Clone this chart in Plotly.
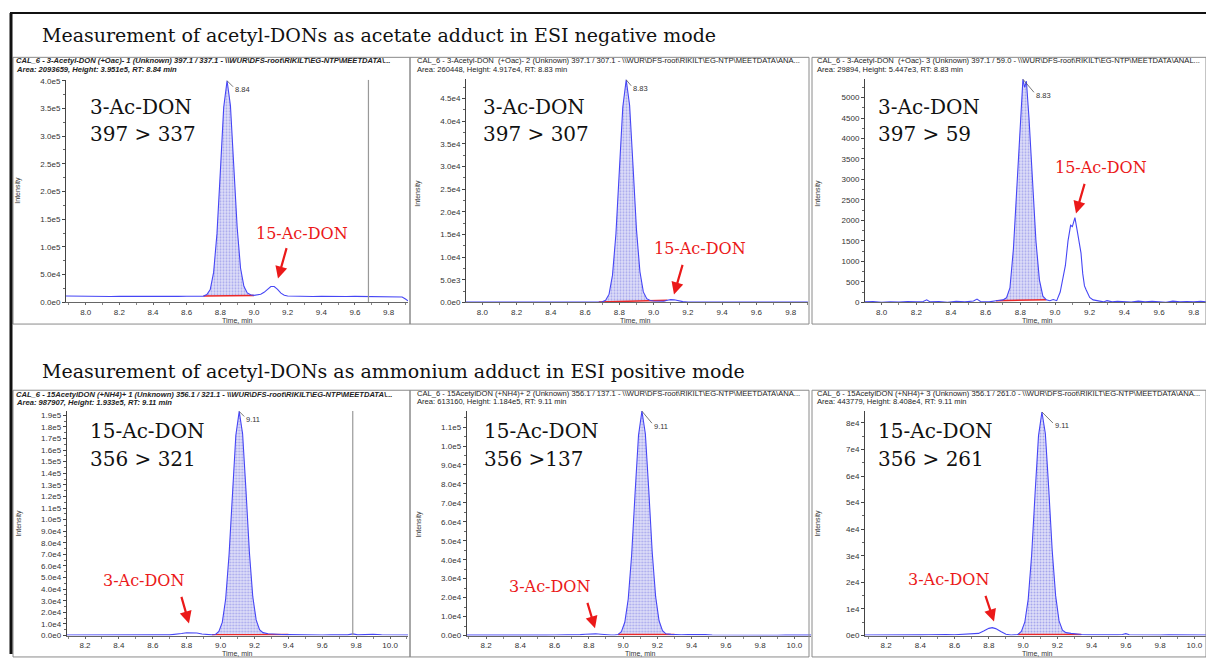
import numpy as np
import plotly.graph_objects as go

W, H = 1206, 659

# ---------------- data ----------------
# Panel 1: 3-Ac-DON 397 > 337
p1_time = [7.88, 7.95, 8.00, 8.05, 8.10, 8.15, 8.20, 8.25, 8.30, 8.35, 8.40, 8.45, 8.50, 8.55, 8.60, 8.65,
           8.70, 8.72, 8.74, 8.76, 8.78, 8.80, 8.82, 8.84, 8.86, 8.88, 8.90, 8.92, 8.94, 8.96, 8.98, 9.00,
           9.02, 9.04, 9.06, 9.08, 9.10, 9.12, 9.14, 9.16, 9.18, 9.20, 9.25, 9.30, 9.35, 9.40, 9.45, 9.50,
           9.55, 9.60, 9.65, 9.70, 9.75, 9.80, 9.85, 9.88, 9.90, 9.915]
p1_int = [11500, 11000, 11200, 10800, 11000, 10600, 11100, 10900, 11300, 10700, 11000, 10500, 11100, 10800, 11000, 10900,
          11200, 14000, 23000, 54000, 124000, 236000, 352000, 400000, 355000, 245000, 135000, 62000, 29000, 17000, 13500, 12500,
          13000, 14500, 18000, 24000, 28500, 28500, 23500, 16500, 12800, 11500, 11000, 11200, 10600, 10900, 10500, 11000,
          10400, 10700, 10300, 10600, 10200, 10400, 10000, 9500, 6000, 2500]

# Panel 2: 3-Ac-DON 397 > 307
p2_time = [7.905, 7.95, 8.00, 8.05, 8.10, 8.15, 8.20, 8.25, 8.30, 8.35, 8.40, 8.45, 8.50, 8.55, 8.60, 8.65,
           8.68, 8.70, 8.72, 8.74, 8.76, 8.78, 8.80, 8.82, 8.84, 8.86, 8.88, 8.90, 8.92, 8.94, 8.96, 8.98,
           9.00, 9.03, 9.06, 9.08, 9.10, 9.12, 9.14, 9.17, 9.20, 9.25, 9.30, 9.35, 9.40, 9.50, 9.60, 9.70, 9.80, 9.90]
p2_int = [60, 80, 50, 70, 60, 90, 50, 80, 60, 70, 50, 80, 60, 90, 70, 80,
          60, 100, 430, 1800, 6000, 15100, 29100, 43100, 49170, 43500, 30000, 16000, 6800, 2300, 800, 400,
          300, 200, 250, 450, 600, 550, 350, 150, 80, 60, 70, 50, 80, 60, 70, 50, 60, 50]

# Panel 3: 3-Ac-DON 397 > 59
p3_time = [7.903, 7.95, 8.00, 8.05, 8.10, 8.15, 8.20, 8.24, 8.26, 8.28, 8.33, 8.38, 8.43, 8.48, 8.53, 8.55,
           8.57, 8.62, 8.66, 8.70, 8.72, 8.74, 8.76, 8.78, 8.80, 8.815, 8.825, 8.835, 8.85, 8.87, 8.89, 8.91,
           8.93, 8.95, 8.97, 8.99, 9.01, 9.03, 9.045, 9.06, 9.075, 9.09, 9.10, 9.115, 9.13, 9.15, 9.16, 9.17,
           9.18, 9.20, 9.22, 9.25, 9.28, 9.30, 9.33, 9.36, 9.40, 9.44, 9.48, 9.52, 9.56, 9.60, 9.64, 9.68,
           9.72, 9.76, 9.80, 9.84, 9.871]
p3_int = [10, 20, 0, 15, 5, 20, 10, 20, 60, 10, 20, 0, 25, 10, 30, 80,
          20, 10, 40, 60, 110, 350, 1300, 2900, 4500, 5447, 5250, 5400, 4500, 3000, 1500, 550,
          150, 60, 40, 70, 40, 250, 600, 900, 1500, 1880, 1850, 2070, 1700, 1200, 700, 400,
          300, 120, 60, 30, 10, 40, 10, 25, 20, 5, 30, 10, 25, 20, 0, 30,
          15, 20, 10, 25, 10]

# Panel 4: 15-Ac-DON 356 > 321
p4_time = [8.092, 8.15, 8.20, 8.25, 8.30, 8.35, 8.40, 8.45, 8.50, 8.55, 8.60, 8.65, 8.70, 8.74, 8.77, 8.80,
           8.83, 8.86, 8.89, 8.92, 8.95, 8.97, 8.99, 9.01, 9.03, 9.05, 9.07, 9.09, 9.11, 9.13, 9.15, 9.17,
           9.19, 9.21, 9.23, 9.25, 9.28, 9.32, 9.36, 9.40, 9.45, 9.50, 9.55, 9.60, 9.65, 9.70, 9.75, 9.78,
           9.81, 9.85, 9.90, 9.95, 10.00, 10.05, 10.106]
p4_int = [400, 350, 450, 300, 400, 350, 450, 300, 400, 500, 400, 550, 600, 900, 1700, 2400,
          2600, 2200, 1300, 700, 600, 900, 3500, 11400, 31500, 69600, 122800, 172600, 193300, 174000, 125000, 72000,
          33500, 13500, 5000, 2500, 1600, 1100, 900, 800, 600, 500, 600, 500, 700, 500, 600, 1400,
          600, 800, 1100, 700, 500, 600, 400]

# Panel 5: 15-Ac-DON 356 > 137
p5_time = [8.087, 8.15, 8.20, 8.25, 8.30, 8.35, 8.40, 8.45, 8.50, 8.55, 8.60, 8.65, 8.70, 8.75, 8.78, 8.81,
           8.84, 8.87, 8.90, 8.93, 8.95, 8.97, 8.99, 9.01, 9.03, 9.05, 9.07, 9.09, 9.11, 9.13, 9.15, 9.17,
           9.19, 9.21, 9.23, 9.25, 9.28, 9.30, 9.34, 9.38, 9.42, 9.45, 9.48, 9.52, 9.56, 9.60, 9.65, 9.70,
           9.75, 9.80, 9.85, 9.90, 9.95, 10.00, 10.097]
p5_int = [200, 150, 250, 200, 150, 250, 200, 150, 250, 200, 300, 250, 350, 500, 700, 850,
          900, 700, 400, 250, 300, 500, 2000, 7000, 19300, 42600, 75200, 105700, 118400, 106500, 76500, 44000,
          20500, 7800, 2600, 900, 600, 500, 400, 500, 600, 800, 500, 300, 250, 200, 250, 200,
          150, 250, 200, 150, 250, 200, 200]

# Panel 6: 15-Ac-DON 356 > 261
p6_time = [8.077, 8.15, 8.20, 8.25, 8.30, 8.35, 8.40, 8.45, 8.50, 8.55, 8.60, 8.65, 8.70, 8.74, 8.77, 8.80,
           8.82, 8.84, 8.87, 8.90, 8.93, 8.95, 8.97, 8.99, 9.01, 9.03, 9.05, 9.07, 9.09, 9.11, 9.13, 9.15,
           9.17, 9.19, 9.21, 9.23, 9.25, 9.28, 9.31, 9.34, 9.38, 9.42, 9.46, 9.50, 9.55, 9.58, 9.60, 9.62,
           9.66, 9.70, 9.75, 9.80, 9.85, 9.90, 9.95, 10.00, 10.068]
p6_int = [200, 150, 250, 200, 300, 200, 250, 300, 200, 350, 300, 400, 500, 800, 1700, 2700,
          2970, 2600, 1500, 500, 200, 250, 400, 1500, 5000, 13700, 30300, 53400, 75100, 84080, 76000, 55000,
          32000, 15000, 5500, 2000, 1100, 800, 500, 400, 300, 250, 300, 250, 300, 400, 700, 300,
          250, 200, 250, 200, 300, 250, 200, 250, 200]

# integration windows (start, end) in min
p1_window = (8.70, 9.00)
p2_window = (8.68, 9.08)
p3_window = (8.66, 8.95)
p4_window = (8.95, 9.40)
p5_window = (8.97, 9.30)
p6_window = (8.97, 9.34)

# retention-time labels
rt_labels = ["8.84", "8.83", "8.83", "9.11", "9.11", "9.11"]

# cursor lines
p1_cursor = 9.68
p4_cursor = 9.78

# tick labels
top_xticks = [8.0, 8.2, 8.4, 8.6, 8.8, 9.0, 9.2, 9.4, 9.6, 9.8]
top_xlabels = ["8.0", "8.2", "8.4", "8.6", "8.8", "9.0", "9.2", "9.4", "9.6", "9.8"]
bot_xticks = [8.2, 8.4, 8.6, 8.8, 9.0, 9.2, 9.4, 9.6, 9.8, 10.0]
bot_xlabels = ["8.2", "8.4", "8.6", "8.8", "9.0", "9.2", "9.4", "9.6", "9.8", "10.0"]

p1_yticks = [0, 5e4, 1e5, 1.5e5, 2e5, 2.5e5, 3e5, 3.5e5, 4e5]
p1_ylabels = ["0.0e0", "5.0e4", "1.0e5", "1.5e5", "2.0e5", "2.5e5", "3.0e5", "3.5e5", "4.0e5"]
p2_yticks = [0, 5e3, 1e4, 1.5e4, 2e4, 2.5e4, 3e4, 3.5e4, 4e4, 4.5e4]
p2_ylabels = ["0.0e0", "5.0e3", "1.0e4", "1.5e4", "2.0e4", "2.5e4", "3.0e4", "3.5e4", "4.0e4", "4.5e4"]
p3_yticks = [0, 500, 1000, 1500, 2000, 2500, 3000, 3500, 4000, 4500, 5000]
p3_ylabels = ["0", "500", "1000", "1500", "2000", "2500", "3000", "3500", "4000", "4500", "5000"]
p4_yticks = [0, 1e4, 2e4, 3e4, 4e4, 5e4, 6e4, 7e4, 8e4, 9e4, 1e5, 1.1e5, 1.2e5, 1.3e5, 1.4e5, 1.5e5,
             1.6e5, 1.7e5, 1.8e5, 1.9e5]
p4_ylabels = ["0.0e0", "1.0e4", "2.0e4", "3.0e4", "4.0e4", "5.0e4", "6.0e4", "7.0e4", "8.0e4", "9.0e4",
              "1.0e5", "1.1e5", "1.2e5", "1.3e5", "1.4e5", "1.5e5", "1.6e5", "1.7e5", "1.8e5", "1.9e5"]
p5_yticks = [0, 1e4, 2e4, 3e4, 4e4, 5e4, 6e4, 7e4, 8e4, 9e4, 1e5, 1.1e5]
p5_ylabels = ["0.0e0", "1.0e4", "2.0e4", "3.0e4", "4.0e4", "5.0e4", "6.0e4", "7.0e4", "8.0e4", "9.0e4",
              "1.0e5", "1.1e5"]
p6_yticks = [0, 1e4, 2e4, 3e4, 4e4, 5e4, 6e4, 7e4, 8e4]
p6_ylabels = ["0e0", "1e4", "2e4", "3e4", "4e4", "5e4", "6e4", "7e4", "8e4"]

headers = [
    (r"<b><i>CAL_6 - 3-Acetyl-DON (+Oac)- 1 (Unknown) 397.1 / 337.1 - \\WUR\DFS-root\RIKILT\EG-NTP\MEETDATA\...</i></b>",
     "<b><i>Area: 2093659, Height: 3.951e5, RT: 8.84 min</i></b>"),
    (r"CAL_6 - 3-Acetyl-DON  (+Oac)- 2 (Unknown) 397.1 / 307.1 - \\WUR\DFS-root\RIKILT\EG-NTP\MEETDATA\ANA...",
     "Area: 260448, Height: 4.917e4, RT: 8.83 min"),
    (r"CAL_6 - 3-Acetyl-DON  (+Oac)- 3 (Unknown) 397.1 / 59.0 - \\WUR\DFS-root\RIKILT\EG-NTP\MEETDATA\ANAL...",
     "Area: 29894, Height: 5.447e3, RT: 8.83 min"),
    (r"<b><i>CAL_6 - 15AcetylDON (+NH4)+ 1 (Unknown) 356.1 / 321.1 - \\WUR\DFS-root\RIKILT\EG-NTP\MEETDATA\...</i></b>",
     "<b><i>Area: 987907, Height: 1.933e5, RT: 9.11 min</i></b>"),
    (r"CAL_6 - 15AcetylDON (+NH4)+ 2 (Unknown) 356.1 / 137.1 - \\WUR\DFS-root\RIKILT\EG-NTP\MEETDATA\ANA...",
     "Area: 613160, Height: 1.184e5, RT: 9.11 min"),
    (r"CAL_6 - 15AcetylDON (+NH4)+ 3 (Unknown) 356.1 / 261.0 - \\WUR\DFS-root\RIKILT\EG-NTP\MEETDATA\ANA...",
     "Area: 443779, Height: 8.408e4, RT: 9.11 min"),
]
compound_labels = [("3-Ac-DON", "397 > 337"), ("3-Ac-DON", "397 > 307"), ("3-Ac-DON", "397 > 59"),
                   ("15-Ac-DON", "356 > 321"), ("15-Ac-DON", "356 >137"), ("15-Ac-DON", "356 > 261")]
other_labels = ["15-Ac-DON", "15-Ac-DON", "15-Ac-DON", "3-Ac-DON", "3-Ac-DON", "3-Ac-DON"]
titles = ["Measurement of acetyl-DONs as acetate adduct in ESI negative mode",
          "Measurement of acetyl-DONs as ammonium adduct in ESI positive mode"]

# ---------------- layout helpers (pixel geometry) ----------------
def fx(p):
    return p / W

def fy(p):
    return 1 - p / H

series = [(p1_time, p1_int, p1_window, p1_yticks, p1_ylabels),
          (p2_time, p2_int, p2_window, p2_yticks, p2_ylabels),
          (p3_time, p3_int, p3_window, p3_yticks, p3_ylabels),
          (p4_time, p4_int, p4_window, p4_yticks, p4_ylabels),
          (p5_time, p5_int, p5_window, p5_yticks, p5_ylabels),
          (p6_time, p6_int, p6_window, p6_yticks, p6_ylabels)]

# geometry: plot-area pixels, axis ranges, minor y step
geom = [
    dict(x=(66, 408), y=(77.7, 303), xr=(7.883, 9.915), ytop=4.018e5, ymin=2.5e4),
    dict(x=(466, 808), y=(76.7, 303), xr=(7.905, 9.901), ytop=4.94e4, ymin=2.5e3),
    dict(x=(865, 1206), y=(76.7, 303), xr=(7.904, 9.871), ytop=5459, ymin=250),
    dict(x=(66.7, 408), y=(413, 640.3), xr=(8.092, 10.106), ytop=1.937e5, ymin=5e3),
    dict(x=(466.7, 811), y=(413, 640.3), xr=(8.087, 10.097), ytop=1.185e5, ymin=5e3),
    dict(x=(865, 1206), y=(413, 640.3), xr=(8.077, 10.068), ytop=8.446e4, ymin=5e3),
]
frames = [(13, 55, 410, 325), (410, 55, 809, 325), (812, 55, 1206, 325),
          (13, 392, 410, 662), (410, 392, 809, 662), (812, 392, 1206, 662)]
header_pos = [(14, 58, 67), (415, 58, 67), (815, 58, 67), (14, 396, 404), (415, 395, 403), (815, 395, 403)]
big_pos = [(88, 105, 133), (481, 105, 133), (876, 105, 133), (88, 433, 462), (482, 433, 462), (876, 433, 462)]
red_pos = [(302, 233), (700, 249), (1101, 167), (143, 585), (549, 591), (948, 584)]
arrow_pos = [((287, 247), (278, 279)), ((683, 264), (674, 295)), ((1085, 182), (1076, 213)),
             ((181, 600), (189, 628)), ((587, 606), (595, 633)), ((985, 599), (994, 626))]
leader = [(6, 6), (5, 6), (11, 13), (5, 5), (10, 12), (11, 11)]
intens_pos = [(18, 190), (418, 193), (818, 193), (19, 527), (419, 527), (818, 527)]
time_pos = [(237, 321), (635, 321), (1037, 321), (237, 658), (640, 658), (1037, 658)]

BLUE = "rgb(70,70,245)"
TICKFONT = dict(family="Liberation Sans, Arial", size=8, color="#333")
SERIF = "DejaVu Serif"

fig = go.Figure()
shapes = []
annotations = []

for i, ((t, v, win, yt, yl), g) in enumerate(zip(series, geom)):
    k = i + 1
    xa = "x" if k == 1 else f"x{k}"
    ya = "y" if k == 1 else f"y{k}"
    t = np.array(t, dtype=float)
    v = np.array(v, dtype=float)

    # integrated peak area (fill between curve and straight baseline)
    m = (t >= win[0] - 1e-9) & (t <= win[1] + 1e-9)
    fig.add_trace(go.Scatter(x=t[m], y=v[m], mode="lines", fill="toself",
                             line=dict(width=0, color=BLUE),
                             fillcolor="rgba(200,200,245,1)",
                             fillpattern=dict(shape=".", fgcolor="rgb(110,110,225)",
                                              bgcolor="rgb(222,222,248)", size=3, solidity=0.35),
                             xaxis=xa, yaxis=ya, hoverinfo="skip", showlegend=False))
    idx = np.where(m)[0]
    fig.add_trace(go.Scatter(x=[t[idx[0]], t[idx[-1]]], y=[v[idx[0]], v[idx[-1]]], mode="lines",
                             line=dict(width=1.5, color="rgb(235,40,40)"),
                             xaxis=xa, yaxis=ya, hoverinfo="skip", showlegend=False))
    # chromatogram
    fig.add_trace(go.Scatter(x=t, y=v, mode="lines", line=dict(width=1.1, color=BLUE),
                             xaxis=xa, yaxis=ya, showlegend=False))

    top = i < 3
    xaxis = dict(domain=[fx(g["x"][0]), fx(g["x"][1])], range=list(g["xr"]), anchor=ya,
                 tickmode="array", tickvals=top_xticks if top else bot_xticks,
                 ticktext=top_xlabels if top else bot_xlabels,
                 showline=True, linecolor="#666", linewidth=1, ticks="outside", ticklen=2,
                 tickcolor="#666", tickfont=TICKFONT, showgrid=False, zeroline=False,
                 minor=dict(tickmode="linear", tick0=0, dtick=0.1, ticks="outside", ticklen=2, tickcolor="#888"))
    yaxis = dict(domain=[fy(g["y"][1]), fy(g["y"][0])], range=[0, g["ytop"]], anchor=xa,
                 tickmode="array", tickvals=yt, ticktext=yl,
                 showline=True, linecolor="#444", linewidth=1, ticks="outside", ticklen=3,
                 tickcolor="#444", tickfont=TICKFONT, showgrid=False, zeroline=False,
                 minor=dict(tickmode="linear", tick0=0, dtick=g["ymin"], ticks="outside", ticklen=2, tickcolor="#666"))
    fig.layout[f"xaxis{'' if k == 1 else k}"] = xaxis
    fig.layout[f"yaxis{'' if k == 1 else k}"] = yaxis

    # frame
    x0, y0, x1, y1 = frames[i]
    shapes.append(dict(type="rect", xref="paper", yref="paper", x0=fx(x0), x1=fx(x1), y0=fy(y1), y1=fy(y0),
                       line=dict(color="#8a8a8a", width=1)))
    # header
    hx, hy1, hy2 = header_pos[i]
    for txt, hy in zip(headers[i], (hy1, hy2)):
        annotations.append(dict(xref="paper", yref="paper", x=fx(hx), y=fy(hy), text=txt, showarrow=False,
                                xanchor="left", yanchor="middle",
                                font=dict(family="Liberation Sans, Arial", size=7.6, color="#222")))
    # compound labels
    bx, by1, by2 = big_pos[i]
    for txt, by in zip(compound_labels[i], (by1, by2)):
        annotations.append(dict(xref="paper", yref="paper", x=fx(bx), y=fy(by), text=txt, showarrow=False,
                                xanchor="left", yanchor="middle", font=dict(family=SERIF, size=20, color="#111")))
    # red co-eluting label and arrow
    rx, ry = red_pos[i]
    annotations.append(dict(xref="paper", yref="paper", x=fx(rx), y=fy(ry), text=other_labels[i], showarrow=False,
                            xanchor="center", yanchor="middle", font=dict(family=SERIF, size=16, color="rgb(235,25,25)")))
    (tx, ty), (hx2, hy2_) = arrow_pos[i]
    annotations.append(dict(xref="paper", yref="paper", x=fx(hx2), y=fy(hy2_), ax=tx - hx2, ay=ty - hy2_,
                            text="", showarrow=True, arrowhead=2, arrowsize=1.1, arrowwidth=2.2,
                            arrowcolor="rgb(235,25,25)", standoff=0))
    # apex RT label with leader line
    j = int(np.argmax(v))
    dx, dy = leader[i]
    shapes.append(dict(type="line", xref=xa, yref=ya, xsizemode="pixel", ysizemode="pixel",
                       xanchor=t[j], yanchor=v[j], x0=0, y0=0, x1=dx, y1=-dy,
                       line=dict(color="#555", width=0.8)))
    annotations.append(dict(xref=xa, yref=ya, x=t[j], y=v[j], text=rt_labels[i], showarrow=False,
                            xanchor="left", yanchor="middle", xshift=dx, yshift=-dy - 3,
                            font=dict(family="Liberation Sans, Arial", size=7.5, color="#333")))
    # axis titles
    ix, iy = intens_pos[i]
    annotations.append(dict(xref="paper", yref="paper", x=fx(ix), y=fy(iy), text="Intensity", textangle=-90,
                            showarrow=False, xanchor="center", yanchor="middle",
                            font=dict(family="Liberation Sans, Arial", size=7, color="#333")))
    tx_, ty_ = time_pos[i]
    annotations.append(dict(xref="paper", yref="paper", x=fx(tx_), y=fy(ty_), text="Time, min",
                            showarrow=False, xanchor="center", yanchor="middle",
                            font=dict(family="Liberation Sans, Arial", size=7, color="#333")))

# cursor lines
for xa, ya, cx, top_v in (("x", "y", p1_cursor, geom[0]["ytop"]), ("x4", "y4", p4_cursor, geom[3]["ytop"])):
    shapes.append(dict(type="line", xref=xa, yref=ya, x0=cx, x1=cx, y0=0, y1=top_v,
                       line=dict(color="#999", width=1.2)))

# outer frame
shapes.append(dict(type="line", xref="paper", yref="paper", x0=fx(10), x1=1, y0=fy(10), y1=fy(10),
                   line=dict(color="#111", width=2)))
shapes.append(dict(type="line", xref="paper", yref="paper", x0=fx(11), x1=fx(11), y0=0, y1=fy(10),
                   line=dict(color="#111", width=3)))

# section titles
for txt, ty in zip(titles, (32, 373)):
    annotations.append(dict(xref="paper", yref="paper", x=fx(40), y=fy(ty), text=txt, showarrow=False,
                            xanchor="left", yanchor="middle", font=dict(family=SERIF, size=19, color="#111")))

fig.update_layout(width=W, height=H, margin=dict(l=0, r=0, t=0, b=0), autosize=False,
                  paper_bgcolor="white", plot_bgcolor="white", showlegend=False,
                  shapes=shapes, annotations=annotations)

fig.write_html("out.html")
